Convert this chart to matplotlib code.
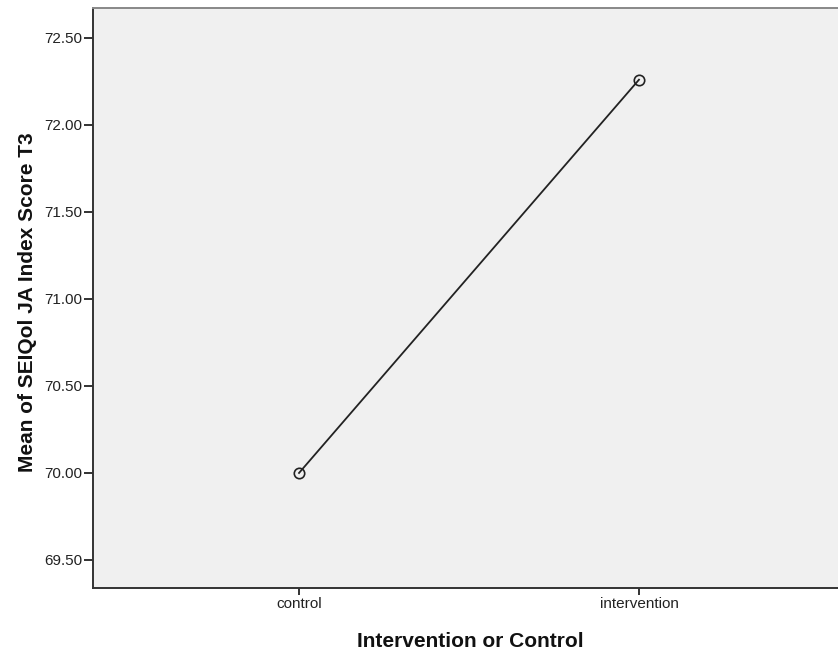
import matplotlib
matplotlib.use("Agg")
import matplotlib.pyplot as plt

categories = ["control", "intervention"]
means = [70.00, 72.26]
yticks = [69.50, 70.00, 70.50, 71.00, 71.50, 72.00, 72.50]

plt.rcParams['font.family'] = ['Liberation Sans', 'DejaVu Sans']

fig = plt.figure(figsize=(8.38, 6.55), dpi=100)
ax = fig.add_axes([93/838, 1-588/655, (845-93)/838, (588-8)/655])
ax.set_facecolor('#F0F0F0')

x = list(range(len(categories)))
ax.plot(x, means, color='#222222', lw=1.3, marker='o', markersize=7.5,
        markerfacecolor='none', markeredgecolor='#222222', markeredgewidth=1.2)

ax.set_xlim(-0.606, 1.606)
ax.set_ylim(69.339, 72.672)
ax.set_xticks(x)
ax.set_xticklabels(categories)
ax.set_yticks(yticks)
ax.set_yticklabels([f"{v:.2f}" for v in yticks])

ax.tick_params(axis='y', direction='out', length=6.5, width=1.3, color='#222222',
               labelsize=11, labelcolor='#222222', pad=1)
ax.tick_params(axis='x', direction='out', length=5, width=1.3, color='#222222',
               labelsize=11, labelcolor='#222222', pad=1.5)

for s in ['left', 'bottom']:
    ax.spines[s].set_color('#333333')
    ax.spines[s].set_linewidth(1.4)
ax.spines['top'].set_color('#888888')
ax.spines['top'].set_linewidth(1.4)
ax.spines['right'].set_visible(False)

ax.set_xlabel("Intervention or Control", fontsize=15, fontweight='bold', color='#111111')
ax.set_ylabel("Mean of SEIQol JA Index Score T3", fontsize=15, fontweight='bold', color='#111111')
ax.xaxis.label.set_va('baseline')
ax.xaxis.set_label_coords((470-93)/752, (588-647)/580)
ax.yaxis.label.set_va('center')
ax.yaxis.label.set_ha('center')
ax.yaxis.set_label_coords((28-93)/752, (588-302)/580)

fig.savefig("out.png", dpi=100)
